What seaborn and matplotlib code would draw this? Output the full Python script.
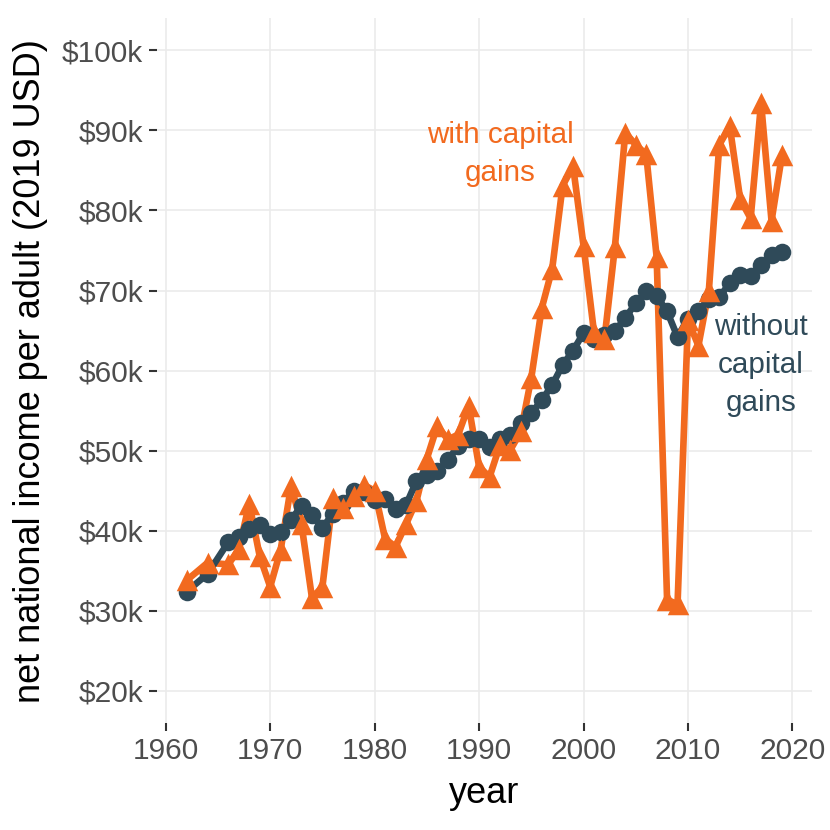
import pandas as pd
import seaborn as sns
import matplotlib.pyplot as plt
from matplotlib.ticker import FuncFormatter

# net national income per adult, thousands of 2019 USD
years = [1962, 1964] + list(range(1966, 2020))

without_cg = [32.4, 34.6, 38.6, 39.2, 40.2, 40.7, 39.6, 39.8, 41.4, 43.1,
              42.0, 40.4, 42.1, 43.5, 45.0, 44.8, 43.8, 44.0, 42.7, 43.2,
              46.2, 46.9, 47.4, 48.8, 50.6, 51.5, 51.4, 50.4, 51.4, 52.0,
              53.5, 54.7, 56.3, 58.2, 60.7, 62.5, 64.7, 64.0, 64.5, 64.9,
              66.6, 68.4, 70.0, 69.3, 67.4, 64.2, 66.5, 67.4, 69.0, 69.2,
              70.9, 72.0, 71.8, 73.2, 74.4, 74.8]

with_cg = [33.8, 36.0, 35.8, 37.7, 43.4, 36.8, 33.0, 37.6, 45.6, 40.8,
           31.6, 33.0, 44.1, 42.8, 44.4, 45.7, 45.0, 39.0, 38.0, 40.8,
           43.7, 49.0, 53.1, 51.4, 52.0, 55.6, 48.0, 46.7, 50.7, 50.1,
           52.4, 59.1, 67.8, 72.7, 83.1, 85.5, 75.6, 64.8, 63.9, 75.4,
           89.7, 88.2, 87.0, 74.2, 31.4, 30.8, 66.3, 63.1, 70.0, 88.2,
           90.5, 81.4, 79.0, 93.4, 78.7, 86.9]

orange = "#F26A1F"
slate = "#2F4A59"

df = pd.DataFrame({
    "year": years * 2,
    "income": [v * 1000 for v in with_cg + without_cg],
    "series": ["with"] * len(years) + ["without"] * len(years),
})
df_with = df[df.series == "with"]
df_without = df[df.series == "without"]

sns.set_theme(style="whitegrid")
plt.rcParams["font.family"] = ["Liberation Sans", "DejaVu Sans"]

fig = plt.figure(figsize=(8.3, 8.3), dpi=100)
ax = fig.add_axes([0.189, 0.129, 0.789, 0.849])

# lines first, then points on top
sns.lineplot(data=df_with, x="year", y="income", color=orange, linewidth=4.8, ax=ax)
sns.lineplot(data=df_without, x="year", y="income", color=slate, linewidth=4.8, ax=ax)
sns.scatterplot(data=df_without, x="year", y="income", color=slate, marker="o",
                s=160, linewidth=0, ax=ax, zorder=3)
sns.scatterplot(data=df_with, x="year", y="income", color=orange, marker="^",
                s=240, linewidth=0, ax=ax, zorder=4)

ax.text(1992, 87100, "with capital\ngains", color=orange, fontsize=21.3,
        ha="center", va="center", linespacing=1.45)
ax.text(2017, 60700, "without\ncapital\ngains", color=slate, fontsize=21.3,
        ha="center", va="center", linespacing=1.45)

ax.set_xlim(1959.15, 2021.85)
ax.set_ylim(16000, 104000)
ax.set_xticks(range(1960, 2021, 10))
ax.set_yticks(range(20000, 100001, 10000))
ax.yaxis.set_major_formatter(FuncFormatter(lambda v, p: f"${v / 1000:.0f}k"))

ax.set_xlabel("year", fontsize=26, color="black", labelpad=8)
ax.set_ylabel("net national income per adult (2019 USD)", fontsize=26,
              color="black", labelpad=10)
ax.tick_params(axis="both", labelsize=21.5, labelcolor="#4D4D4D", length=6,
               width=1.5, color="#333333", pad=4, direction="out")
ax.tick_params(axis="x", bottom=True)
ax.tick_params(axis="y", left=True)

for s in ax.spines.values():
    s.set_visible(False)
ax.grid(True, color="#EBEBEB", linewidth=1.2)
ax.set_facecolor("white")
fig.patch.set_facecolor("white")

fig.savefig("out.png", dpi=100)
